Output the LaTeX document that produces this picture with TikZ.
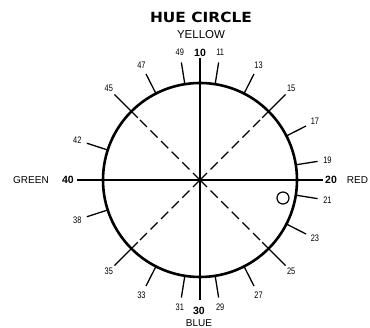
\documentclass[tikz,border=0pt]{standalone}
\usepackage{fontspec}
\setmainfont{Liberation Sans}
\newfontfamily\numfont[FakeStretch=0.78]{Liberation Sans}
\newfontfamily\titlefont[FakeStretch=1.1]{DejaVu Sans}
\usetikzlibrary{calc}
\begin{document}
\begin{tikzpicture}[x=1pt,y=1pt,
  rim/.style={line width=2.6pt},
  tickline/.style={line width=1.3pt},
  axisline/.style={line width=1.3pt},
  diagline/.style={line width=1.1pt, dash pattern=on 10pt off 5pt},
  num/.style={font=\numfont\fontsize{9.5}{9.5}\selectfont, inner sep=0pt},
  major/.style={font=\bfseries\fontsize{10.5}{10.5}\selectfont, inner sep=0pt},
  colname/.style={font=\fontsize{10}{10}\selectfont, inner sep=0pt}]
\useasboundingbox (0,0) rectangle (370,328);
\coordinate (c) at (200,148);
\node[draw, circle, rim, minimum size=194pt, inner sep=0pt] (hc) at (c) {};
% axes
\coordinate (axL) at ($(c)+(180:123)$);
\coordinate (axR) at ($(c)+(0:123)$);
\coordinate (axT) at ($(c)+(90:122)$);
\coordinate (axB) at ($(c)+(-90:120)$);
\draw[axisline] (axL) -- (axR);
\draw[axisline] (axT) -- (axB);
% ordinary ticks
\foreach \h in {11,13,17,19,21,23,27,29,31,33,38,42,47,49} {
  \pgfmathsetmacro\a{90-(\h-10)*9}
  \coordinate (t\h a) at ($(c)+(\a:97)$);
  \coordinate (t\h b) at ($(c)+(\a:119)$);
  \draw[tickline] (t\h a) -- (t\h b);
  \node[num] (n\h) at ($(c)+(\a:129)$) {\h};
}
% diagonal ticks with dashed lines
\foreach \h in {15,25,35,45} {
  \pgfmathsetmacro\a{90-(\h-10)*9}
  \coordinate (d\h a) at ($(c)+(\a:88)$);
  \coordinate (d\h b) at ($(c)+(\a:121)$);
  \draw[diagline] (c) -- (d\h a);
  \draw[tickline] (d\h a) -- (d\h b);
  \node[num] (n\h) at ($(c)+(\a:129)$) {\h};
}
% small circle
\node[draw, circle, line width=1.2pt, minimum size=12pt, inner sep=0pt] (dot) at (283,130) {};
% labels
\node[font=\titlefont\bfseries\fontsize{14}{14}\selectfont, inner sep=0pt] (title) at (201,311) {HUE CIRCLE};
\node[font=\fontsize{11.5}{11.5}\selectfont, inner sep=0pt] (yellow) at (201,293) {YELLOW};
\node[major] (n10) at (200,275) {10};
\node[major] (n40) at (68,148) {40};
\node[colname] (green) at (31,148) {GREEN};
\node[major] (n20) at (331,148) {20};
\node[colname] (red) at (357.5,148) {RED};
\node[major] (n30) at (199,17) {30};
\node[colname] (blue) at (199,5) {BLUE};
\end{tikzpicture}
\end{document}
